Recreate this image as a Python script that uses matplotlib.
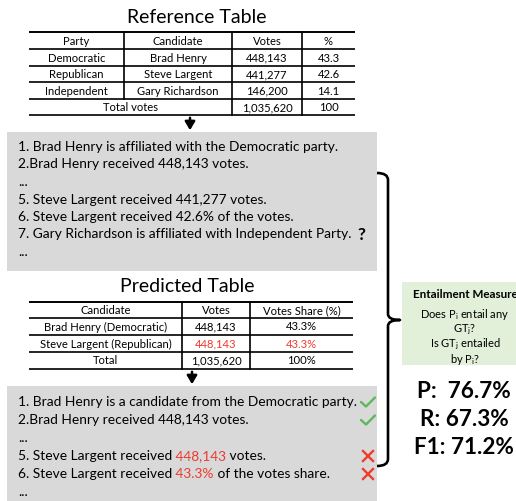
import matplotlib.pyplot as plt
from matplotlib.patches import Rectangle
from matplotlib.path import Path
from matplotlib.patches import PathPatch

plt.rcParams["font.family"] = ["Lato", "DejaVu Sans"]
plt.rcParams["mathtext.fontset"] = "custom"
plt.rcParams["mathtext.rm"] = "Lato"
plt.rcParams["mathtext.it"] = "Lato:italic"

# ---- data ----
ref_title = "Reference Table"
ref_header = ["Party", "Candidate", "Votes", "%"]
ref_rows = [
    ["Democratic", "Brad Henry", "448,143", "43.3"],
    ["Republican", "Steve Largent", "441,277", "42.6"],
    ["Independent", "Gary Richardson", "146,200", "14.1"],
]
ref_total = ["Total votes", "1,035,620", "100"]

pred_title = "Predicted Table"
pred_header = ["Candidate", "Votes", "Votes Share (%)"]
pred_rows = [
    ["Brad Henry (Democratic)", "448,143", "43.3%"],
    ["Steve Largent (Republican)", "448,143", "43.3%"],
    ["Total", "1,035,620", "100%"],
]
pred_wrong = [(1, 1), (1, 2)]

ref_statements = [
    [("1. Brad Henry is affiliated with the Democratic party.", "k")],
    [("2.Brad Henry received 448,143 votes.", "k")],
    [("...", "k")],
    [("5. Steve Largent received 441,277 votes.", "k")],
    [("6. Steve Largent received 42.6% of the votes.", "k")],
    [("7. Gary Richardson is affiliated with Independent Party.", "k")],
    [("...", "k")],
]
ref_marks = [None, None, None, None, None, "?", None]

pred_statements = [
    [("1. Brad Henry is a candidate from the Democratic party.", "k")],
    [("2.Brad Henry received 448,143 votes.", "k")],
    [("...", "k")],
    [("5. Steve Largent received", "k"), (" 448,143", "red"), (" votes.", "k")],
    [("6. Steve Largent received", "k"), (" 43.3%", "red"), (" of the votes share.", "k")],
    [("...", "k")],
]
pred_marks = ["check", "check", None, "cross", "cross", None]

measure_title = "Entailment Measure"
measure_lines = ["Does P$_\\mathregular{i}$ entail any", "GT$_\\mathregular{j}$?",
                 "Is GT$_\\mathregular{j}$ entailed", "by P$_\\mathregular{i}$?"]
scores = ["P:  76.7%", "R: 67.3%", "F1: 71.2%"]

RED = "#ee3b2f"
GREEN = "#5cb85c"
GRAY = "#d9d9d9"
LIGHT_GREEN = "#e2efd9"
BODY = 9.9
CELL = 8.1

fig = plt.figure(figsize=(5.16, 5.01), dpi=100)
ax = fig.add_axes([0, 0, 1, 1])
ax.set_xlim(0, 516)
ax.set_ylim(501, 0)
ax.axis("off")
renderer = fig.canvas.get_renderer()


def draw_runs(x, y, parts, size):
    for txt, col in parts:
        c = RED if col == "red" else col
        t = ax.text(x, y, txt, color=c, fontsize=size, ha="left", va="center")
        x += t.get_window_extent(renderer).width
    return x


def draw_table(xs, ys, header, rows, size, wrong=(), span_last=0):
    for i, y in enumerate(ys):
        ax.plot([xs[0], xs[-1]], [y, y], color="k", lw=1.4 if i == 0 else 1.2,
                solid_capstyle="butt")
    for j, x in enumerate(xs[1:-1], start=1):
        y_end = ys[-2] if (span_last and j <= span_last) else ys[-1]
        ax.plot([x, x], [ys[0], y_end], color="k", lw=1.2)
    all_rows = [header] + rows
    for r, row in enumerate(all_rows):
        yc = (ys[r] + ys[r + 1]) / 2
        is_last = r == len(all_rows) - 1
        if span_last and is_last:
            cells = [((xs[0] + xs[span_last + 1]) / 2, row[0])]
            for k, val in enumerate(row[1:]):
                cells.append(((xs[span_last + 1 + k] + xs[span_last + 2 + k]) / 2, val))
        else:
            cells = [((xs[k] + xs[k + 1]) / 2, val) for k, val in enumerate(row)]
        for k, (xc, val) in enumerate(cells):
            col = RED if (r - 1, k) in wrong else "k"
            ax.text(xc, yc + 0.5, val, fontsize=size, ha="center", va="center", color=col)


# reference table
ax.text(197, 17, ref_title, fontsize=14, ha="center", va="center")
draw_table([29, 124, 232, 302, 355], [32, 49, 66, 82, 99, 115],
           ref_header, ref_rows + [ref_total], CELL, span_last=1)

# arrow to first box
ax.annotate("", xy=(190, 133), xytext=(190, 115),
            arrowprops=dict(arrowstyle="-|>,head_width=0.3,head_length=0.5", color="k", lw=1.8))

# statement box 1
ax.add_patch(Rectangle((7, 132), 370, 139, facecolor=GRAY, edgecolor="none"))
y0, dy = 147, 17.5
for i, parts in enumerate(ref_statements):
    xe = draw_runs(18, y0 + i * dy, parts, BODY)
    if ref_marks[i] == "?":
        ax.text(xe + 6, y0 + i * dy + 1, "?", fontsize=12.5, fontweight="bold", ha="left", va="center")

# predicted table
ax.text(187, 287, pred_title, fontsize=14, ha="center", va="center")
draw_table([29, 182, 250, 353], [302, 318, 335, 352, 369],
           pred_header, pred_rows, CELL, wrong=pred_wrong)

ax.annotate("", xy=(192, 387), xytext=(192, 369),
            arrowprops=dict(arrowstyle="-|>,head_width=0.3,head_length=0.5", color="k", lw=1.8))

# statement box 2
ax.add_patch(Rectangle((7, 386), 370, 120, facecolor=GRAY, edgecolor="none"))
y0 = 402
for i, parts in enumerate(pred_statements):
    yy = y0 + i * 18
    draw_runs(18, yy, parts, BODY)
    if pred_marks[i] == "check":
        ax.plot([361, 366, 375], [yy, yy + 4.5, yy - 4.5], color=GREEN, lw=1.7,
                solid_capstyle="round", solid_joinstyle="round")
    elif pred_marks[i] == "cross":
        ax.plot([363, 373], [yy - 5, yy + 5], color=RED, lw=1.7)
        ax.plot([363, 373], [yy + 5, yy - 5], color=RED, lw=1.7)

# brace
verts = [(377, 173), (388, 173), (388, 180),
         (388, 314),
         (388, 320), (400, 320),
         (388, 320), (388, 326),
         (388, 459),
         (388, 466), (377, 466)]
codes = [Path.MOVETO, Path.CURVE3, Path.CURVE3,
         Path.LINETO,
         Path.CURVE3, Path.CURVE3,
         Path.CURVE3, Path.CURVE3,
         Path.LINETO,
         Path.CURVE3, Path.CURVE3]
ax.add_patch(PathPatch(Path(verts, codes), facecolor="none", edgecolor="k", lw=1.9,
                       joinstyle="round"))

# entailment measure box
ax.add_patch(Rectangle((402, 282), 114, 83, facecolor=LIGHT_GREEN, edgecolor="none"))
ax.text(465, 295, measure_title, fontsize=8.4, fontweight="bold", ha="center", va="center")
for i, line in enumerate(measure_lines):
    ax.text(465, 315 + i * 14.7, line, fontsize=8.0, ha="center", va="center")

for i, s in enumerate(scores):
    ax.text(464, 392 + i * 27.5, s, fontsize=16.2, fontweight="bold", ha="center", va="center")

fig.savefig("out.png", dpi=100)
